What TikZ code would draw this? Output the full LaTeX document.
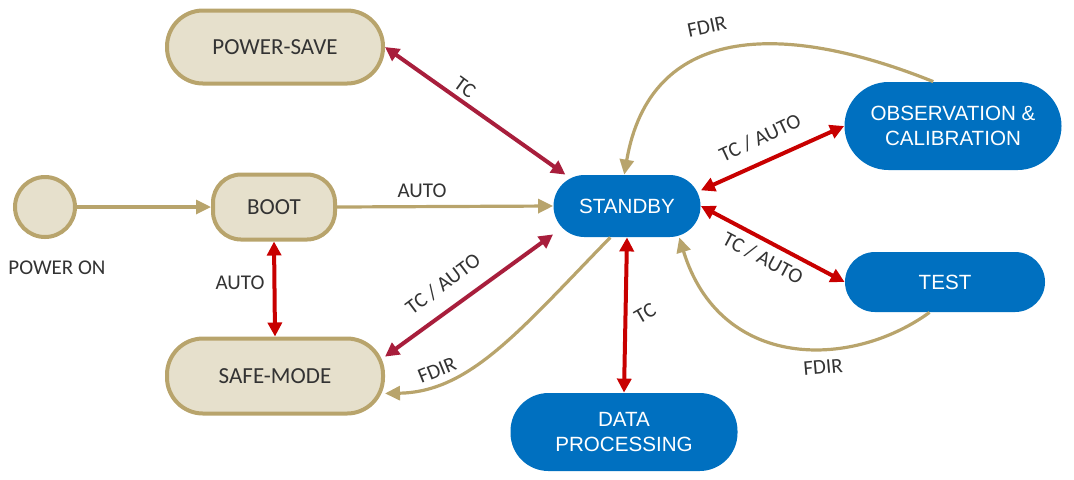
\documentclass[tikz,border=0pt]{standalone}
\usepackage{fontspec}
\setmainfont{Carlito}
\newfontfamily\arialf{Liberation Sans}
\usetikzlibrary{arrows.meta}
\definecolor{gold}{HTML}{B8A46C}
\definecolor{beige}{HTML}{E6E0CC}
\definecolor{bluec}{HTML}{0070C0}
\definecolor{crim}{HTML}{A81E3C}
\definecolor{redc}{HTML}{C80000}
\definecolor{txt}{HTML}{333333}
\begin{document}
\begin{tikzpicture}[x=0.5pt,y=-0.5pt,
 beigebox/.style={draw=gold,fill=beige,line width=2pt,text=txt,font=\fontsize{11.5}{13}\selectfont,inner sep=0pt},
 bluebox/.style={fill=bluec,text=white,font=\arialf\fontsize{10.3}{12.5}\selectfont,align=center,inner sep=0pt},
 goldarr/.style={draw=gold,line width=1.6pt,-{Triangle[length=7.5pt,width=7pt]}},
 redarr/.style={draw=redc,line width=2pt,{Triangle[length=7pt,width=7pt]}-{Triangle[length=7pt,width=7pt]}},
 crimarr/.style={redarr,draw=crim},
 lbl/.style={text=txt,font=\fontsize{10.5}{12}\selectfont,inner sep=0pt}]
\useasboundingbox (0,0) rectangle (1074,479);
% nodes
\node[beigebox,minimum width=108pt,minimum height=36.5pt,rounded corners=18pt] (ps) at (275,47) {POWER-SAVE};
\node[beigebox,circle,minimum size=30pt] (on) at (45,207) {};
\node[lbl] (onl) at (57,268) {POWER ON};
\node[beigebox,minimum width=61pt,minimum height=32.5pt,rounded corners=14pt] (boot) at (274,207) {BOOT};
\node[beigebox,minimum width=108pt,minimum height=37.5pt,rounded corners=18pt] (safe) at (275,376) {SAFE-MODE};
\node[bluebox,minimum width=73.5pt,minimum height=31pt,rounded corners=15.5pt] (sb) at (627,206) {STANDBY};
\node[bluebox,minimum width=108.5pt,minimum height=44pt,rounded corners=22pt] (obs) at (953,126) {OBSERVATION \&\\CALIBRATION};
\node[bluebox,minimum width=100pt,minimum height=30pt,rounded corners=15pt] (test) at (945,282) {TEST};
\node[bluebox,minimum width=113.5pt,minimum height=39pt,rounded corners=19pt] (data) at (624,432) {DATA\\PROCESSING};
% connectors
\draw[goldarr] (on) -- (boot.west);
\draw[goldarr] (boot.east) -- (sb.west);
\draw[crimarr] (ps.east) -- (sb.153);
\draw[redarr] (boot.south) -- (safe.north);
\draw[crimarr] (safe.10) -- (sb.201);
\draw[goldarr] (sb.-118) .. controls (520,330) and (470,392) .. (safe.-9);
\draw[redarr] (sb.south) -- (data.north);
\draw[redarr] (sb.12) -- (obs.west);
\draw[redarr] (sb.east) -- (test.west);
\draw[goldarr] (obs.114) .. controls (780,20) and (650,25) .. (sb.95);
\draw[goldarr] (test.-117) .. controls (850,370) and (720,370) .. (sb.-31);
% labels
\node[lbl] (l1) at (422,191) {AUTO};
\node[lbl,rotate=-36] (l2) at (465,87) {TC};
\node[lbl] (l3) at (240,283) {AUTO};
\node[lbl,rotate=37] (l4) at (443,284) {TC / AUTO};
\node[lbl,rotate=22] (l5) at (437,370) {FDIR};
\node[lbl,rotate=30] (l6) at (645,313) {TC};
\node[lbl,rotate=25] (l7) at (760,138) {TC / AUTO};
\node[lbl,rotate=-28] (l8) at (763,258) {TC / AUTO};
\node[lbl,rotate=12] (l9) at (707,27) {FDIR};
\node[lbl,rotate=5] (l10) at (823,367) {FDIR};
\end{tikzpicture}
\end{document}
